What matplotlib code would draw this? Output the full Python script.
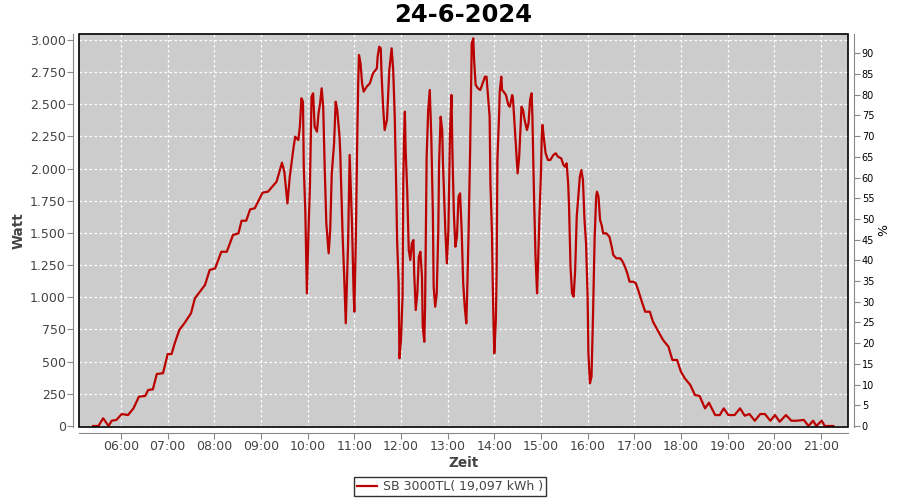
import matplotlib
matplotlib.use("Agg")
import matplotlib.pyplot as plt
from matplotlib.patches import Rectangle
from matplotlib.ticker import FuncFormatter, MultipleLocator

# ── Data ──────────────────────────────────────
times = [
    "05:24", "05:31", "05:37", "05:44", "05:48", "05:54", "06:01", "06:09", "06:16", "06:23",
    "06:31", "06:35", "06:41", "06:46", "06:54", "07:00", "07:05", "07:09", "07:15", "07:22",
    "07:30", "07:35", "07:48", "07:54", "08:01", "08:09", "08:16", "08:24", "08:31", "08:35",
    "08:41", "08:46", "08:52", "09:02", "09:09", "09:20", "09:27", "09:30", "09:34", "09:37",
    "09:42", "09:44", "09:48", "09:50", "09:52", "09:54", "09:55", "09:57", "09:59", "10:01",
    "10:03", "10:05", "10:07", "10:09", "10:12", "10:14", "10:16", "10:18", "10:20", "10:22",
    "10:24", "10:27", "10:29", "10:31", "10:34", "10:36", "10:38", "10:41", "10:42", "10:45",
    "10:47", "10:49", "10:52", "10:54", "10:57", "10:59", "11:00", "11:02", "11:04", "11:05",
    "11:06", "11:08", "11:10", "11:12", "11:16", "11:20", "11:24", "11:29", "11:30", "11:32",
    "11:34", "11:35", "11:37", "11:39", "11:42", "11:45", "11:48", "11:50", "11:52", "11:54",
    "11:55", "11:57", "11:58", "12:00", "12:02", "12:03", "12:04", "12:05", "12:06", "12:08",
    "12:10", "12:12", "12:14", "12:16", "12:17", "12:19", "12:21", "12:23", "12:25", "12:27",
    "12:28", "12:30", "12:31", "12:33", "12:35", "12:37", "12:39", "12:41", "12:42", "12:44",
    "12:46", "12:48", "12:49", "12:51", "12:53", "12:54", "12:57", "12:59", "13:01", "13:03",
    "13:05", "13:06", "13:08", "13:10", "13:12", "13:14", "13:16", "13:18", "13:20", "13:22",
    "13:24", "13:25", "13:27", "13:29", "13:30", "13:31", "13:33", "13:34", "13:36", "13:39",
    "13:42", "13:45", "13:48", "13:50", "13:52", "13:54", "13:55", "13:57", "13:58", "13:59",
    "14:00", "14:02", "14:03", "14:04", "14:06", "14:07", "14:09", "14:10", "14:12", "14:15",
    "14:18", "14:20", "14:23", "14:24", "14:27", "14:29", "14:30", "14:32", "14:34", "14:35",
    "14:37", "14:39", "14:42", "14:44", "14:46", "14:48", "14:49", "14:51", "14:53", "14:55",
    "14:56", "14:58", "15:00", "15:01", "15:02", "15:04", "15:06", "15:09", "15:12", "15:16",
    "15:19", "15:22", "15:26", "15:29", "15:31", "15:33", "15:35", "15:36", "15:38", "15:40",
    "15:42", "15:44", "15:46", "15:48", "15:50", "15:52", "15:54", "15:56", "15:58", "16:00",
    "16:01", "16:03", "16:05", "16:07", "16:08", "16:09", "16:11", "16:12", "16:14", "16:16",
    "16:18", "16:20", "16:24", "16:28", "16:31", "16:33", "16:37", "16:42", "16:45", "16:48",
    "16:51", "16:54", "16:59", "17:02", "17:05", "17:09", "17:14", "17:20", "17:24", "17:31",
    "17:37", "17:44", "17:49", "17:55", "18:00", "18:05", "18:12", "18:18", "18:24", "18:31",
    "18:36", "18:44", "18:50", "18:55", "19:01", "19:09", "19:16", "19:22", "19:28", "19:35",
    "19:42", "19:48", "19:55", "20:01", "20:07", "20:15", "20:22", "20:29", "20:38", "20:44",
    "20:50", "20:54", "21:01", "21:05", "21:16",
]
watt = [
    0, 0, 60, 0, 41, 47, 93, 85, 137, 228,
    233, 280, 285, 404, 410, 559, 559, 642, 746, 803,
    876, 992, 1096, 1212, 1225, 1354, 1354, 1484, 1497, 1595,
    1595, 1683, 1692, 1813, 1821, 1898, 2046, 1976, 1730, 1937,
    2170, 2248, 2222, 2326, 2546, 2520, 2015, 1665, 1031, 1497,
    1885, 2559, 2585, 2326, 2287, 2430, 2507, 2624, 2481, 1989,
    1575, 1342, 1523, 1963, 2197, 2520, 2455, 2248, 2106, 1471,
    1160, 798, 1420, 2106, 1575, 1057, 888, 1471, 2326, 2663,
    2883, 2818, 2663, 2598, 2637, 2663, 2740, 2779, 2870, 2947,
    2935, 2740, 2481, 2300, 2378, 2766, 2935, 2766, 2403, 1808,
    1445, 1109, 526, 668, 1005, 1911, 2248, 2442, 2144, 1834,
    1368, 1290, 1420, 1445, 1187, 901, 1031, 1316, 1354, 1160,
    772, 655, 927, 2092, 2455, 2611, 2248, 1652, 1082, 927,
    1031, 1523, 2041, 2403, 2300, 2041, 1523, 1264, 1523, 2274,
    2572, 2170, 1652, 1393, 1471, 1782, 1808, 1523, 1109, 927,
    798, 1005, 1523, 2170, 2559, 2974, 3012, 2844, 2650, 2624,
    2611, 2663, 2714, 2714, 2559, 2403, 1885, 1497, 1109, 798,
    565, 824, 1187, 2067, 2391, 2598, 2714, 2611, 2598, 2572,
    2494, 2481, 2572, 2546, 2248, 2041, 1963, 2092, 2352, 2481,
    2455, 2378, 2300, 2352, 2533, 2585, 2403, 1808, 1316, 1031,
    1212, 1626, 1963, 2248, 2339, 2222, 2119, 2067, 2067, 2106,
    2119, 2092, 2080, 2028, 2015, 2041, 1885, 1730, 1238, 1031,
    1005, 1212, 1626, 1782, 1937, 1989, 1911, 1601, 1420, 1005,
    565, 332, 383, 876, 1160, 1458, 1782, 1821, 1782, 1601,
    1562, 1497, 1497, 1471, 1393, 1329, 1303, 1303, 1277, 1238,
    1187, 1121, 1121, 1109, 1057, 979, 888, 888, 811, 733,
    668, 616, 513, 513, 422, 370, 319, 241, 233, 137,
    181, 85, 85, 137, 85, 85, 137, 80, 93, 41,
    93, 93, 41, 85, 33, 85, 41, 41, 47, 0,
    41, 0, 41, 0, 0,
]
hour_ticks = list(range(6, 22))
series_label = "SB 3000TL( 19,097 kWh )"
title = "24-6-2024"

hours = [int(t[:2]) + int(t[3:]) / 60 for t in times]

# ── Figure ────────────────────────────────────
fig = plt.figure(figsize=(9, 5), dpi=100)
ax = fig.add_axes([0.0878, 0.146, 0.8544, 0.786])
ax.set_facecolor("#CCCCCC")

ax.plot(hours, watt, color="#BB0000", lw=1.6, label=series_label)

ax.set_xlim(5.1, 21.58)
ax.set_ylim(-7.8, 3046)
ax.set_xticks(hour_ticks)
ax.xaxis.set_major_formatter(FuncFormatter(lambda v, p: f"{int(round(v)):02d}:00"))
ax.yaxis.set_major_locator(MultipleLocator(250))
ax.yaxis.set_major_formatter(
    FuncFormatter(lambda v, p: f"{v:,.0f}".replace(",", ".")))

ax.grid(True, color="white", lw=0.9, ls=(0, (2, 2)))
ax.set_axisbelow(True)

for s in ["left", "bottom"]:
    ax.spines[s].set_position(("outward", 4))
    ax.spines[s].set_color("#888888")
ax.spines["top"].set_visible(False)
ax.spines["right"].set_visible(False)
ax.tick_params(colors="#888888", labelcolor="#444444", labelsize=9, length=4, pad=1.5)

# black frame round the plot area
ax.add_patch(Rectangle((0, 0), 1, 1, transform=ax.transAxes, fill=False,
                       edgecolor="black", lw=1.2, clip_on=False, zorder=5))

ax.set_xlabel("Zeit", fontsize=9.8, fontweight="bold", color="#444444", labelpad=2)
ax.set_ylabel("Watt", fontsize=9.8, fontweight="bold", color="#444444", labelpad=3)
ax.set_title(title, fontsize=17.5, fontweight="bold", pad=9)

# right-hand percent axis
ax2 = ax.twinx()
ax2.set_ylim(-0.24, 94.66)
ax2.yaxis.set_major_locator(MultipleLocator(5))
for s in ["left", "top", "bottom"]:
    ax2.spines[s].set_visible(False)
ax2.spines["right"].set_position(("outward", 4))
ax2.spines["right"].set_color("#888888")
ax2.tick_params(colors="#888888", labelcolor="black", labelsize=7, length=4, pad=2)
ax2.set_ylabel("%", fontsize=9, labelpad=2)

leg = fig.legend(loc="upper center", bbox_to_anchor=(0.5, 0.046), frameon=True,
                 fancybox=False, fontsize=9, handlelength=1.6, borderpad=0.25,
                 handletextpad=0.5, borderaxespad=0)
leg.get_frame().set_edgecolor("black")
leg.get_frame().set_linewidth(1.0)
for t in leg.get_texts():
    t.set_color("#444444")

plt.savefig("out.png", dpi=100)
